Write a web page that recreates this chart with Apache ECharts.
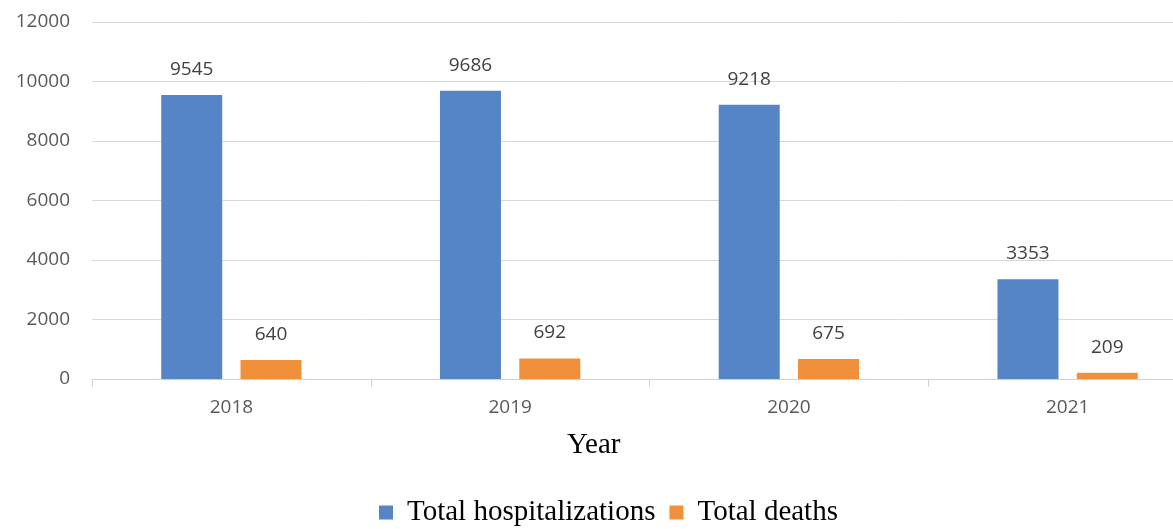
<!DOCTYPE html>
<html>
<head>
<meta charset="utf-8">
<script src="https://cdn.jsdelivr.net/npm/echarts@6/dist/echarts.min.js"></script>
<style>
  html, body { margin: 0; padding: 0; background: #ffffff; }
  #chart { width: 1173px; height: 529px; }
</style>
</head>
<body>
<div id="chart"></div>
<script>
// Yearly totals
const years = ['2018', '2019', '2020', '2021'];
const hospitalizations = [9545, 9686, 9218, 3353];
const deaths = [640, 692, 675, 209];
const yTicks = { min: 0, max: 12000, interval: 2000 };
const axisTitle = 'Year';

const numFont = '"Open Sans", "Liberation Sans", sans-serif';
const serifFont = '"Liberation Serif", "Times New Roman", serif';

const chart = echarts.init(document.getElementById('chart'));

const labelStyle = {
  show: true,
  position: 'top',
  distance: 16,
  color: '#404040',
  fontFamily: numFont,
  fontSize: 19
};

chart.setOption({
  animation: false,
  grid: { left: 92, top: 22, width: 1115, bottom: 150, containLabel: false, outerBoundsMode: 'none' },
  legend: {
    data: ['Total hospitalizations', 'Total deaths'],
    left: 379,
    top: 498,
    icon: 'rect',
    itemWidth: 14,
    itemHeight: 14,
    itemGap: 14,
    padding: 0,
    textStyle: { fontFamily: serifFont, fontSize: 29, color: '#000000', padding: [0, 0, 0, 9] }
  },
  graphic: [
    {
      type: 'text',
      left: 567,
      top: 431,
      style: { text: axisTitle, font: '29px "Liberation Serif", "Times New Roman", serif', fill: '#000000' }
    }
  ],
  xAxis: {
    type: 'category',
    data: years,
    axisLine: { lineStyle: { color: '#d0d0d0', width: 1 } },
    axisTick: { show: true, length: 8, lineStyle: { color: '#d0d0d0' } },
    axisLabel: { color: '#595959', fontFamily: numFont, fontSize: 19, margin: 19 }
  },
  yAxis: {
    type: 'value',
    min: yTicks.min,
    max: yTicks.max,
    interval: yTicks.interval,
    axisLine: { show: false },
    axisTick: { show: false },
    splitLine: { lineStyle: { color: '#d9d9d9', width: 1 } },
    axisLabel: { color: '#595959', fontFamily: numFont, fontSize: 19, margin: 22, formatter: v => String(v) }
  },
  series: [
    {
      name: 'Total hospitalizations',
      type: 'bar',
      data: hospitalizations,
      barWidth: 61,
      barGap: '30%',
      itemStyle: { color: '#5585c6' },
      label: labelStyle
    },
    {
      name: 'Total deaths',
      type: 'bar',
      data: deaths,
      barWidth: 61,
      itemStyle: { color: '#f0903a' },
      label: labelStyle
    }
  ]
});
</script>
</body>
</html>
